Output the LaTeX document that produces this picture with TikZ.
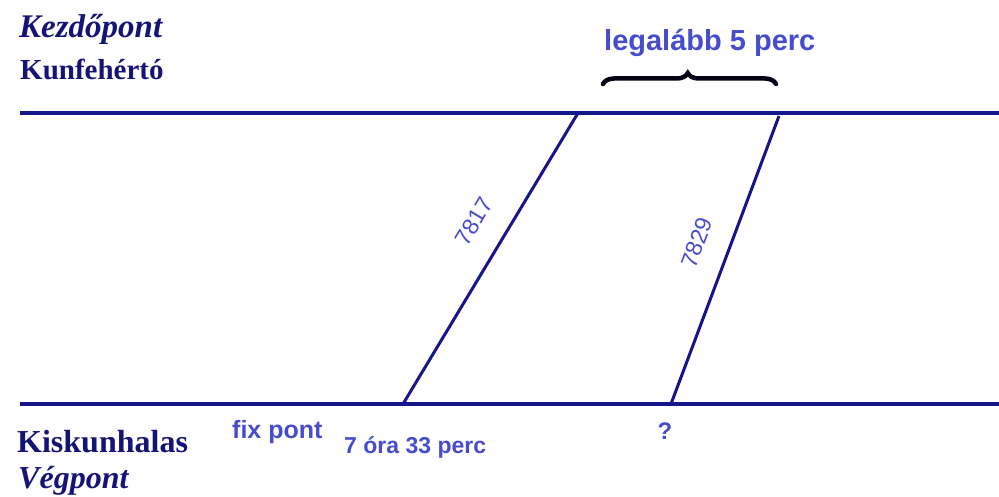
\documentclass[tikz,border=0pt]{standalone}
\usepackage{fontspec}
\setmainfont{Liberation Serif}
\setsansfont{Liberation Sans}
\usetikzlibrary{decorations.pathreplacing}
\definecolor{navyline}{RGB}{22,22,140}
\definecolor{navytext}{RGB}{20,20,120}
\definecolor{labelblue}{RGB}{70,76,205}
\tikzset{
  track/.style={draw=navyline, line width=3.2pt},
  train/.style={draw=navyline, line width=3pt},
  station/.style={inner sep=0pt, text=navytext, font=\rmfamily\bfseries},
  lbl/.style={inner sep=0pt, text=labelblue, font=\sffamily\bfseries},
}
\begin{document}
\begin{tikzpicture}[x=1pt,y=-1pt]
\useasboundingbox (0,0) rectangle (999,497);
% tracks
\coordinate (tl) at (20,113);
\coordinate (tr) at (999,113);
\coordinate (bl) at (20,404);
\coordinate (br) at (999,404);
\draw[track] (tl) -- (tr);
\draw[track] (bl) -- (br);
% trains
\coordinate (a1) at (578,113);
\coordinate (a2) at (403,404);
\coordinate (b1) at (779,116);
\coordinate (b2) at (671,404);
\draw[train] (a1) -- (a2);
\draw[train] (b1) -- (b2);
% station labels
\node[station, anchor=base west, font=\rmfamily\bfseries\itshape\fontsize{33}{33}\selectfont] (kezd) at (19,38) {Kezdőpont};
\node[station, anchor=base west, font=\rmfamily\bfseries\fontsize{29}{29}\selectfont] (kunf) at (20,80) {Kunfehértó};
\node[station, anchor=base west, font=\rmfamily\bfseries\fontsize{32}{32}\selectfont] (kisk) at (17,452) {Kiskunhalas};
\node[station, anchor=base west, font=\rmfamily\bfseries\itshape\fontsize{32}{32}\selectfont] (vegp) at (18,488) {Végpont};
% blue labels
\node[lbl, anchor=base west, font=\sffamily\bfseries\fontsize{29}{29}\selectfont] (leg) at (604,51) {legalább 5 perc};
\node[lbl, anchor=base west, font=\sffamily\bfseries\fontsize{25}{25}\selectfont] (fix) at (232,438) {fix pont};
\node[lbl, anchor=base west, font=\sffamily\bfseries\fontsize{23}{23}\selectfont] (ora) at (344,453) {7 óra 33 perc};
\node[lbl, anchor=base, font=\sffamily\bfseries\fontsize{24}{24}\selectfont] (q) at (665,439) {?};
\node[lbl, rotate=59, font=\sffamily\fontsize{23}{23}\selectfont] (t1) at (474,221) {7817};
\node[lbl, rotate=69, font=\sffamily\fontsize{23}{23}\selectfont] (t2) at (697,243) {7829};
% brace
\coordinate (br1) at (603,84);
\coordinate (br2) at (776,84);
\draw[draw=black!85!navyline, line width=4.5pt, line cap=round,
  decorate, decoration={brace, amplitude=11pt, aspect=0.49}] (br1) -- (br2);
\end{tikzpicture}
\end{document}
